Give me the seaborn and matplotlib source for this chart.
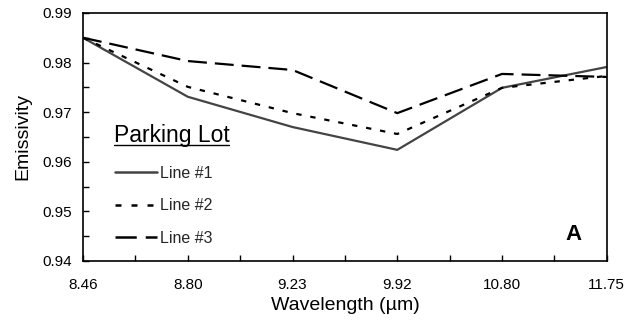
import matplotlib
matplotlib.use("Agg")
import matplotlib.pyplot as plt
import seaborn as sns
import pandas as pd
from matplotlib.lines import Line2D

wavelengths = ["8.46", "8.80", "9.23", "9.92", "10.80", "11.75"]
line1 = [0.9850, 0.9731, 0.9670, 0.9624, 0.9749, 0.9791]
line2 = [0.9850, 0.9751, 0.9698, 0.9656, 0.9749, 0.9773]
line3 = [0.9850, 0.9803, 0.9785, 0.9698, 0.9777, 0.9771]
series_names = ["Line #1", "Line #2", "Line #3"]
y_ticks = [0.94, 0.95, 0.96, 0.97, 0.98, 0.99]

sns.set_theme(style="white")
plt.rcParams['font.family'] = ['Liberation Sans', 'DejaVu Sans']

rows = []
for name, vals in zip(series_names, [line1, line2, line3]):
    for i, (w, v) in enumerate(zip(wavelengths, vals)):
        rows.append({"pos": i, "wl": w, "val": v, "series": name})
df = pd.DataFrame(rows)

fig = plt.figure(figsize=(6.34, 3.23), dpi=100)
ax = fig.add_axes([0.131, 0.192, 0.826, 0.768])

colors = {"Line #1": "#444444", "Line #2": "#000000", "Line #3": "#000000"}
dashes = {"Line #1": "", "Line #2": (2.4, 4.0), "Line #3": (8.5, 3.6)}

sns.lineplot(data=df, x="pos", y="val", hue="series", style="series",
             palette=colors, dashes=dashes, linewidth=1.6, ax=ax,
             legend=False, sort=False)

ax.set_xlim(0, len(wavelengths) - 1)
ax.set_ylim(0.94, 0.99)
ax.set_xticks(range(len(wavelengths)))
ax.set_xticklabels(wavelengths)
ax.set_yticks(y_ticks)
ax.set_yticklabels([f"{t:.2f}" for t in y_ticks])
ax.set_xticks([i + 0.5 for i in range(len(wavelengths) - 1)], minor=True)
ax.set_yticks([t + 0.005 for t in y_ticks[:-1]], minor=True)
ax.tick_params(axis="both", which="both", direction="in", length=4, width=1,
               color="black", labelsize=11, labelcolor="black")
ax.tick_params(axis="x", which="major", pad=12)
ax.tick_params(axis="y", which="major", pad=8)
ax.tick_params(left=True, bottom=True)
ax.tick_params(axis="both", which="minor", left=True, bottom=True)

for s in ax.spines.values():
    s.set_color("black")
    s.set_linewidth(1.2)

ax.set_xlabel("Wavelength (µm)", fontsize=14, color="black", labelpad=4)
ax.set_ylabel("Emissivity", fontsize=14, color="black", labelpad=8)

# Legend
handles = [Line2D([], [], color=colors["Line #1"], linewidth=1.8),
           Line2D([], [], color=colors["Line #2"], linewidth=1.8, dashes=(2.4, 4.0)),
           Line2D([], [], color=colors["Line #3"], linewidth=1.8, dashes=(8.5, 3.6))]
leg = ax.legend(handles, series_names, loc="center left",
                bbox_to_anchor=(0.061, 0.223), frameon=False, fontsize=11.5,
                handlelength=2.6, handletextpad=0.2, labelspacing=1.1,
                borderaxespad=0, borderpad=0)
ax.text(0.059, 0.478, "Parking Lot", transform=ax.transAxes, fontsize=16.5,
        ha="left", va="baseline", color="black")
ax.add_line(Line2D([0.059, 0.279], [0.466, 0.466], transform=ax.transAxes,
                   color="black", linewidth=1.0))

ax.text(0.937, 0.085, "A", transform=ax.transAxes, fontsize=16,
        fontweight="bold", ha="center", va="baseline", color="black")

fig.savefig("out.png", dpi=100)
